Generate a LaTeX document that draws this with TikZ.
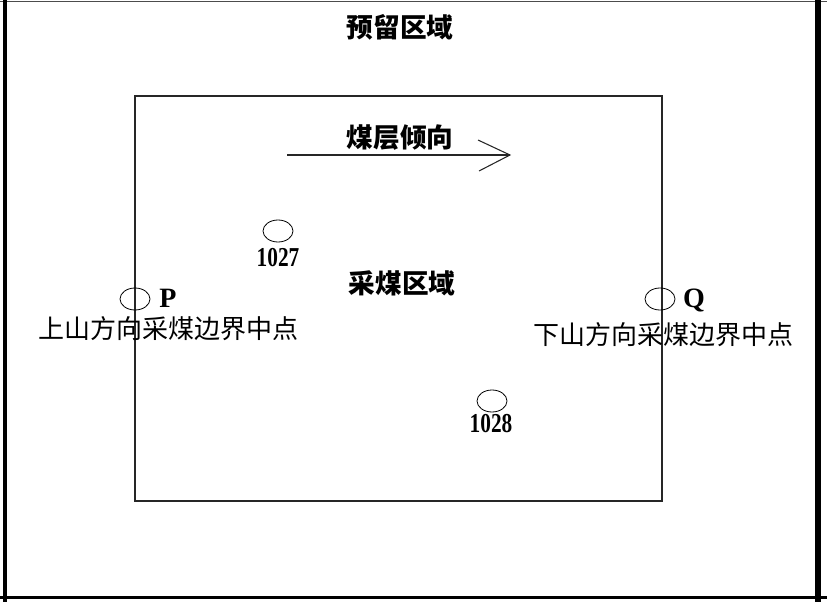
\documentclass[tikz,border=0pt]{standalone}
\usepackage{fontspec}
\setmainfont{Liberation Serif}
\newfontfamily\cjk{Noto Sans CJK SC}
\usetikzlibrary{shapes.geometric}
\begin{document}
\begin{tikzpicture}[x=0.75pt,y=-0.75pt,
  title/.style={font=\cjk\bfseries\fontsize{20}{22}\selectfont, inner sep=0pt},
  lab/.style={font=\cjk\fontsize{19.5}{21}\selectfont, inner sep=0pt},
  num/.style={font=\bfseries\fontsize{20.5}{22}\selectfont, inner sep=0pt},
  pq/.style={font=\bfseries\fontsize{21}{23}\selectfont, inner sep=0pt},
  hole/.style={ellipse, draw, line width=0.6pt, minimum width=22.5pt, minimum height=16.5pt, inner sep=0pt},
  frame/.style={draw=black!85, line width=0.8pt}]
\useasboundingbox (0,0) rectangle (827,602);
% outer border
\coordinate (tl) at (0,1.5); \coordinate (tr) at (827,1.5);
\draw[black!70, line width=0.8pt] (tl) -- (tr);
\coordinate (l1) at (5,0); \coordinate (l2) at (5,602);
\draw[black, line width=3.5pt] (l1) -- (l2);
\coordinate (r1) at (818,0); \coordinate (r2) at (818,602);
\draw[black, line width=4pt] (r1) -- (r2);
\coordinate (b1) at (0,597.5); \coordinate (b2) at (827,597.5);
\draw[black, line width=1.6pt] (b1) -- (b2);
% mining area
\node[frame, draw, minimum width=395.25pt, minimum height=303.75pt, inner sep=0pt] (area) at (398.5,298.5) {};
\node[title] (reserve) at (400,27) {预留区域};
\node[title] (mine) at (402,283) {采煤区域};
\node[title] (dip) at (400,138) {煤层倾向};
% dip arrow
\coordinate (a0) at (287,155);
\coordinate (a1) at (510,155);
\coordinate (u) at (478,140);
\coordinate (d) at (479,171);
\draw[line width=0.8pt, black!85] (a0) -- (a1);
\draw[line width=0.8pt, black!85] (u) -- (a1) -- (d);
% holes
\node[hole] (h1027) at (278,231) {};
\node[num] (t1027) at (278,258) {\scalebox{0.78}[1]{1027}};
\node[hole] (h1028) at (492,401) {};
\node[num] (t1028) at (491,424) {\scalebox{0.78}[1]{1028}};
% P and Q
\node[hole] (P) at (135,299) {};
\node[pq] (Plab) at (168,298) {P};
\node[lab] (Ptxt) at (168,329) {上山方向采煤边界中点};
\node[hole] (Q) at (660,299) {};
\node[pq] (Qlab) at (694,300) {Q};
\node[lab] (Qtxt) at (663,335) {下山方向采煤边界中点};
\end{tikzpicture}
\end{document}
